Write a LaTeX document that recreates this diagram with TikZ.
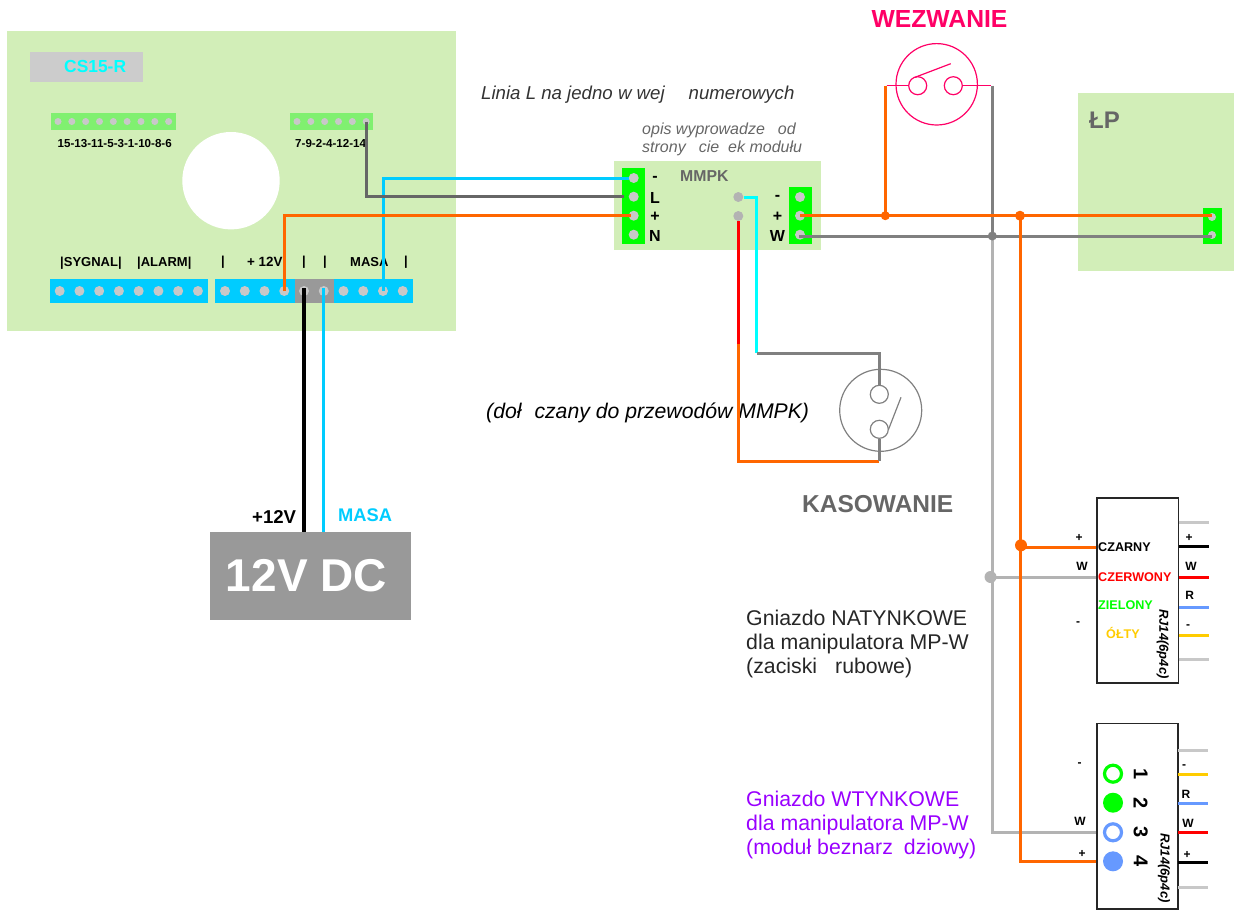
\documentclass[tikz,border=0pt]{standalone}
\usepackage{fontspec}
\setmainfont{Liberation Sans}
\definecolor{plyta}{HTML}{D2EEB8}
\definecolor{listwa}{HTML}{00CCFF}
\definecolor{turkus}{HTML}{00FFFF}
\definecolor{zielen}{HTML}{80F070}
\definecolor{czysta}{HTML}{00FF00}
\definecolor{bolec}{HTML}{C8C8C8}
\definecolor{pomar}{HTML}{FF6600}
\definecolor{szary}{HTML}{808080}
\definecolor{ciemny}{HTML}{666666}
\definecolor{jasny}{HTML}{B3B3B3}
\definecolor{roz}{HTML}{FF0066}
\definecolor{nieb}{HTML}{6699FF}
\definecolor{zolty}{HTML}{FFCC00}
\definecolor{fiolet}{HTML}{9900FF}
\tikzset{
	zacisk/.style={circle,fill=bolec,inner sep=0,minimum size=#1},
	zacisk/.default=10pt,
	drut/.style={line width=3pt,#1},
	opis/.style={inner sep=0,font=\fontsize{#1}{#1}\selectfont\bfseries},
	tekst/.style={inner sep=0,anchor=west,align=left,font=\fontsize{#1}{24}\selectfont},
	kursywa/.style={inner sep=0,anchor=west,align=left,font=\fontsize{#1}{18}\selectfont\itshape},
	pionowy/.style={inner sep=0,rotate=-90,font=\fontsize{#1}{#1}\selectfont\bfseries},
	wezel/.style={circle,inner sep=0,minimum size=#1}
}
\begin{document}
\begin{tikzpicture}[x=1pt,y=-1pt]
	\useasboundingbox (0,0) rectangle (1239,910);

	% plyta CS15-R
	\fill[plyta] (6.5,31) rectangle (455.5,331);
	\fill[black!20] (30,52) rectangle (143,82);
	\node[opis=17.4,text=turkus,anchor=west] (nazwa) at (64,67) {CS15-R};
	\fill[white] (231,180.7) circle (48.7);
	\fill[zielen] (51,113) rectangle (176,130);
	\fill[zielen] (290,113) rectangle (373,130);
	\foreach \i in {0,...,8}
		\node[zacisk=7pt] (g\i) at (58+\i*13.83,121.5) {};
	\foreach \i in {0,...,5}
		\node[zacisk=7pt] (h\i) at (297+\i*13.83,121.5) {};
	\node[opis=11.6,anchor=west] (opisg) at (57.5,144) {15-13-11-5-3-1-10-8-6};
	\node[opis=11.6,anchor=west] (opish) at (295,144) {7-9-2-4-12-14};
	\fill[listwa] (50,279) rectangle (208,303);
	\fill[listwa] (215,279) rectangle (413,303);
	\fill[black!40] (295,279) rectangle (334,303);
	\foreach \i in {0,...,7}
		\node[zacisk] (a\i) at (59.7+\i*19.75,291) {};
	\foreach \i in {0,...,9}
		\node[zacisk] (b\i) at (225+\i*19.75,291) {};
	\node[opis=13,anchor=west] (sygnal) at (60,263) {|SYGNAL|};
	\node[opis=13,anchor=west] (alarm) at (137,263) {|ALARM|};
	\node[opis=13] (k1) at (223,262) {|};
	\node[opis=13.4,anchor=west] (plus) at (247,262) {+ 12V};
	\node[opis=13] (k2) at (304,262) {|};
	\node[opis=13] (k3) at (325,262) {|};
	\node[opis=13,anchor=west] (masa) at (350,262) {MASA};
	\node[opis=13] (k4) at (406,262) {|};

	% modul MMPK
	\fill[plyta] (614,161) rectangle (821,250);
	\fill[czysta] (622,168) rectangle (645,244);
	\fill[czysta] (789,187) rectangle (812,244);
	\foreach \n/\y/\t in {A/178/-,L/196.7/L,P/215.7/+,N/234.7/N} {
		\node[zacisk] (m\n) at (633.7,\y) {};
		\node[opis=16] (t\n) at (655,\y+.8) {\t};
	}
	\foreach \n/\y/\t in {A/197/-,P/215.7/+,W/234.7/W} {
		\node[zacisk] (r\n) at (800,\y) {};
		\node[opis=16] (u\n) at (777.5,\y+.8) {\t};
	}
	\node[zacisk,fill=jasny] (sA) at (738.3,197) {};
	\node[zacisk,fill=jasny] (sB) at (738.3,216) {};
	\node[opis=15.8,text=ciemny,anchor=west] (mmpk) at (680,175.7) {MMPK};
	\node[kursywa=18.65,text=black!80] (linia) at (481,94.5) {Linia L na jedno w wej\hspace{24pt}numerowych};
	\node[kursywa=16,text=ciemny] (wypr) at (642,139) {opis wyprowadze\hspace{13pt}od\\strony\hspace{13pt}cie\hspace{9pt}ek modułu};
	\node[kursywa=21.2] (dolacz) at (486,413) {(doł\hspace{13pt}czany do przewodów MMPK)};

	% listwa LP
	\fill[plyta] (1078,93) rectangle (1234,270.7);
	\node[opis=24,text=ciemny,anchor=west] (lp) at (1089,120) {ŁP};
	\fill[czysta] (1203,208) rectangle (1222,243.7);
	\node[zacisk=8pt] (p1) at (1212,217) {};
	\node[zacisk=8pt] (p2) at (1212,235) {};

	% przycisk wezwania
	\node[opis=24.7,text=roz] (wezw) at (939.5,19) {WEZWANIE};
	\begin{scope}[draw=roz,line width=1.2pt]
		\node[wezel=81.4pt,draw] (wez) at (936.7,84.3) {};
		\node[wezel=18pt,draw] (w1) at (917.7,85.7) {};
		\node[wezel=18pt,draw] (w2) at (953.3,85.7) {};
		\coordinate (wl) at (886.7,85.7);
		\coordinate (wp) at (990.7,85.7);
		\coordinate (wk) at (950.7,63.7);
		\draw[roz,line width=1.5pt] (wl) -- (w1) (w2) -- (wp);
		\draw[roz,line width=1.2pt] (915,77.3) -- (wk);
	\end{scope}

	% przycisk kasowania
	\node[opis=24.5,text=ciemny,anchor=west] (kas) at (802,504) {KASOWANIE};
	\node[wezel=82pt,draw=szary,line width=1.2pt] (kp) at (880.7,410.3) {};
	\node[wezel=18pt,draw=szary,line width=1.2pt] (k5) at (879.3,394.3) {};
	\node[wezel=18pt,draw=szary,line width=1.2pt] (k6) at (879.3,429.3) {};
	\coordinate (kk) at (901,397.3);
	\draw[szary,line width=1.2pt] (888.3,430) -- (kk);

	% zasilacz
	\node[fill=black!40,minimum width=201pt,minimum height=88pt,inner sep=0,text=white,opis=46] (zas) at (310.5,576) {12V DC\kern8pt};
	\node[opis=18.6,anchor=west] (z1) at (252,517) {+12V};
	\node[opis=18.3,text=listwa,anchor=west] (z2) at (338,515) {MASA};
	\draw[drut={line width=4.3pt}] ([yshift=3pt]b4.center) -- (b4.center |- zas.north);
	\draw[drut=listwa] ([yshift=3pt]b5.center) -- (b5.center |- zas.north);

	% gniazda
	\node[draw=black!85,line width=1.6pt,fill=white,minimum width=81.6pt,minimum height=185.3pt,inner sep=0] (gn1) at (1137.5,590.4) {};
	\node[draw=black!85,line width=1.6pt,fill=white,minimum width=81pt,minimum height=185.7pt,inner sep=0] (gn2) at (1137.2,816.2) {};
	\node[opis=12.6,anchor=west] (c1) at (1098,547.3) {CZARNY};
	\node[opis=12.6,anchor=west,text=red] (c2) at (1098,577) {CZERWONY};
	\node[opis=12.6,anchor=west,text=czysta] (c3) at (1098,604.7) {ZIELONY};
	\node[opis=12.6,anchor=west,text=zolty] (c4) at (1106,633) {ÓŁTY};
	\node[pionowy=13,font=\fontsize{13}{13}\selectfont\bfseries\itshape] (rj1) at (1162.7,644) {RJ14(6p4c)};
	\node[pionowy=13,font=\fontsize{13}{13}\selectfont\bfseries\itshape] (rj2) at (1164,868) {RJ14(6p4c)};
	\foreach \n/\y/\t/\k in {1/773.7/1/czysta,3/832.3/3/nieb} {
		\node[wezel=17pt,draw=\k,line width=3.2pt] (o\n) at (1113,\y) {};
		\node[pionowy=20] (l\n) at (1140.7,\y) {\t};
	}
	\foreach \n/\y/\t/\k in {2/802.7/2/czysta,4/861.3/4/nieb} {
		\node[wezel=20pt,fill=\k] (o\n) at (1113,\y) {};
		\node[pionowy=20] (l\n) at (1140.7,\y) {\t};
	}
	\foreach \y/\k in {522.3/bolec,546.7/black,577/red,607/nieb,635.3/zolty,659/bolec}
		\draw[drut=\k] (1178.5,\y) -- (1209,\y);
	\foreach \y/\k in {750.3/bolec,774.3/zolty,803.3/nieb,832.3/red,862.3/black,887.3/bolec}
		\draw[drut=\k] (1177.5,\y) -- (1208,\y);
	\foreach \x/\y/\t in {1079/538/+,1082/566/W,1078/624/-,1189/538/+,1191/566/W,1189.7/595/R,1188/627/-,1079.7/765/-,1080/821/W,1082/854/+,1184/767/-,1186/794.7/R,1188/823.7/W,1187/855/+}
		\node[opis=12] at (\x,\y) {\t};
	\node[tekst=21.3,text=black!85] (opis1) at (746,644) {Gniazdo NATYNKOWE\\dla manipulatora MP-W\\(zaciski\hspace{18pt}rubowe)};
	\node[tekst=21.3,text=fiolet] (opis2) at (746,825) {Gniazdo WTYNKOWE\\dla manipulatora MP-W\\(moduł beznarz\hspace{11pt}dziowy)};

	% przewody
	\coordinate (w3) at (885.3,215.7);
	\coordinate (w4) at (992.3,236);
	\coordinate (w5) at (1020,215.7);
	\draw[drut=listwa] (b8.center) |- (mA.west);
	\draw[drut=ciemny] (h5.center) |- ([xshift=-5pt]mL.west);
	\draw[drut=pomar] (b3.center) |- ([xshift=2pt]mP.west);
	\draw[drut=turkus] (sA.east) -| (756.7,353.3) coordinate (c5);
	\draw[drut=szary] (c5) -| (k5.north);
	\draw[drut=red] (sB.south) -- (sB.center |- c5);
	\draw[drut=pomar] (738.3,344) |- (k6 |- 0,461) coordinate (c6);
	\draw[drut=szary] (c6) -- (k6.south);
	\draw[drut=jasny] (w4) |- (gn2.west |- o3);
	\draw[drut=jasny] (990.5,577) -- (gn1.west |- c2);
	\draw[drut=szary] (rW.center) -- (rW.center |- w4) -- (p2.center |- w4);
	\draw[drut=szary] (wp -| w4) -- (w4);
	\draw[drut=pomar] (rP.center) -- (p1.center |- w3);
	\draw[drut=pomar] (wl -| w3) -- (w3);
	\draw[drut=pomar] (w5) |- (gn2.west |- o4);
	\draw[drut=pomar] (1020,547.3) -- (gn1.west |- c1);
	\node[wezel=9pt,fill=pomar] (n1) at (w3) {};
	\node[wezel=10pt,fill=pomar] (n2) at (w5) {};
	\node[wezel=9pt,fill=szary] (n3) at (w4) {};
	\node[wezel=12pt,fill=pomar] (n4) at (1021,545.3) {};
	\node[wezel=12pt,fill=jasny] (n5) at (990.5,577) {};
\end{tikzpicture}
\end{document}
